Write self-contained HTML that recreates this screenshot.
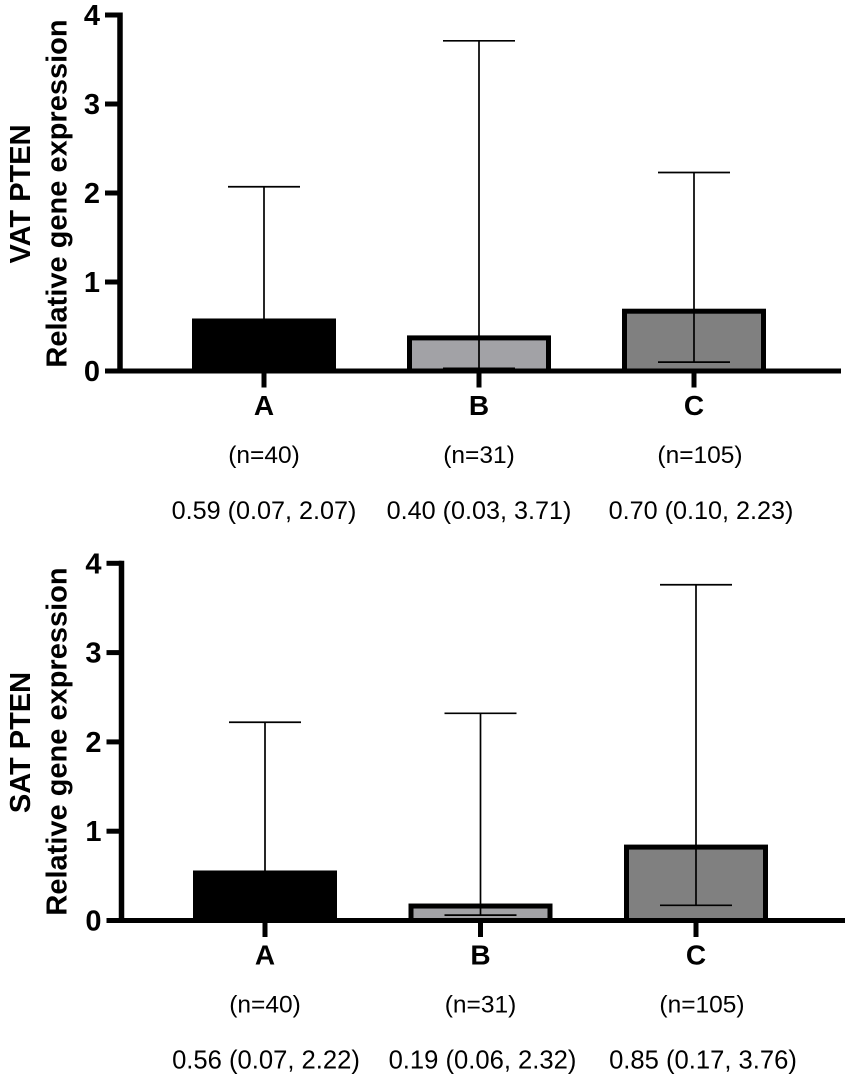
<!DOCTYPE html>
<html>
<head>
<meta charset="utf-8">
<title>PTEN relative gene expression</title>
<style>
html,body{margin:0;padding:0;background:#fff;}
svg{display:block;}
text{font-family:"Liberation Sans",sans-serif;fill:#000;}
.b{font-weight:700;}
</style>
</head>
<body>
<svg id="chart" width="851" height="1082" viewBox="0 0 851 1082" xmlns="http://www.w3.org/2000/svg"></svg>
<script>
const categories = ['A', 'B', 'C'];
const yTicks = [0, 1, 2, 3, 4];
const vatSizes = ['(n=40)', '(n=31)', '(n=105)'];
const vatMedian = [0.59, 0.40, 0.70];
const vatLow = [0.07, 0.03, 0.10];
const vatHigh = [2.07, 3.71, 2.23];
const vatSummary = ['0.59 (0.07, 2.07)', '0.40 (0.03, 3.71)', '0.70 (0.10, 2.23)'];
const satSizes = ['(n=40)', '(n=31)', '(n=105)'];
const satMedian = [0.56, 0.19, 0.85];
const satLow = [0.07, 0.06, 0.17];
const satHigh = [2.22, 2.32, 3.76];
const satSummary = ['0.56 (0.07, 2.22)', '0.19 (0.06, 2.32)', '0.85 (0.17, 3.76)'];
const barFills = ['#000000', '#a2a2a6', '#808080'];

const svg = document.getElementById('chart');
const NS = 'http://www.w3.org/2000/svg';

function add(tag, attrs, parent, txt) {
  const el = document.createElementNS(NS, tag);
  for (const k in attrs) el.setAttribute(k, attrs[k]);
  if (txt !== undefined) el.textContent = txt;
  (parent || svg).appendChild(el);
  return el;
}

function drawPanel(cfg) {
  const g = add('g', {}, svg);
  
  
  const y = v => cfg.y0 - v * cfg.unit;
  const x = i => cfg.x0 + i * cfg.step;

  // bars
  cfg.median.forEach((v, i) => {
    const inset = 2.5;
    const bar = add('rect', {
      x: x(i) - cfg.barW / 2 + inset,
      y: y(v) + inset,
      width: cfg.barW - inset * 2,
      height: Math.max(0, y(0) - y(v) - inset),
      fill: barFills[i],
      stroke: '#000',
      'stroke-width': 5
    }, g);
    
    
  });

  // error bars
  cfg.median.forEach((v, i) => {
    const err = add('g', { stroke: '#000', 'stroke-width': 1.7 }, g);
    
    
    add('line', { x1: x(i), x2: x(i), y1: y(cfg.low[i]), y2: y(cfg.high[i]) }, err);
    add('line', { x1: x(i) - 36, x2: x(i) + 36, y1: y(cfg.high[i]), y2: y(cfg.high[i]) }, err);
    add('line', { x1: x(i) - 36, x2: x(i) + 36, y1: y(cfg.low[i]), y2: y(cfg.low[i]) }, err);
  });

  // y axis
  const yAxis = add('g', {}, g);
  
  
  add('line', { x1: cfg.axisX, x2: cfg.axisX, y1: y(4) - 2.5, y2: y(0) + 2.5, stroke: '#000', 'stroke-width': 5.5 }, yAxis);
  yTicks.forEach(t => {
    add('line', { x1: cfg.axisX - 15, x2: cfg.axisX, y1: y(t), y2: y(t), stroke: '#000', 'stroke-width': 5 }, yAxis);
    const lab = add('text', { x: cfg.axisX - 20, y: y(t) + 10, 'text-anchor': 'end', 'font-size': 29, class: 'b' }, yAxis, String(t));
    
    
  });

  // x axis
  const xAxis = add('g', {}, g);
  
  
  add('line', { x1: cfg.axisX - 15, x2: cfg.xEnd, y1: y(0), y2: y(0), stroke: '#000', 'stroke-width': 5 }, xAxis);
  categories.forEach((c, i) => {
    add('line', { x1: x(i), x2: x(i), y1: y(0), y2: y(0) + 16.5, stroke: '#000', 'stroke-width': 5 }, xAxis);
    const lab = add('text', { x: x(i), y: cfg.y0 + 44, 'text-anchor': 'middle', 'font-size': 28, class: 'b' }, xAxis, c);
    
    
    const n = add('text', { x: x(i) + cfg.sizeShift[i], y: cfg.y0 + 92, 'text-anchor': 'middle', 'font-size': 24.5 }, xAxis, cfg.sizes[i]);
    
    
    const s = add('text', { x: x(i) + cfg.summaryShift[i], y: cfg.y0 + 148, 'text-anchor': 'middle', 'font-size': cfg.summarySize }, xAxis, cfg.summary[i]);
    
    
  });

  // titles
  const t1 = add('text', { transform: 'translate(30,' + cfg.t1y + ') rotate(-90)', 'text-anchor': 'middle', 'font-size': 29, class: 'b' }, g, cfg.title);
  
  
  const t2 = add('text', { transform: 'translate(66.5,' + cfg.t2y + ') rotate(-90)', 'text-anchor': 'middle', 'font-size': 29, class: 'b' }, g, 'Relative gene expression');
  
  
}

drawPanel({
  key: 'vat', title: 'VAT PTEN', y0: 371, unit: 89, x0: 264, step: 215, barW: 144,
  axisX: 120, xEnd: 841, t1y: 194, t2y: 193.5,
  median: vatMedian, low: vatLow, high: vatHigh, sizes: vatSizes, summary: vatSummary,
  summaryShift: [0, 0, 7], sizeShift: [0, 0, 6], summarySize: 25.2
});
drawPanel({
  key: 'sat', title: 'SAT PTEN', y0: 920.5, unit: 89.3, x0: 265, step: 215.5, barW: 144,
  axisX: 121.5, xEnd: 845, t1y: 742.5, t2y: 741.5,
  median: satMedian, low: satLow, high: satHigh, sizes: satSizes, summary: satSummary,
  summaryShift: [1, 2, 7], sizeShift: [0, 0, 6], summarySize: 25.6
});
</script>
</body>
</html>
